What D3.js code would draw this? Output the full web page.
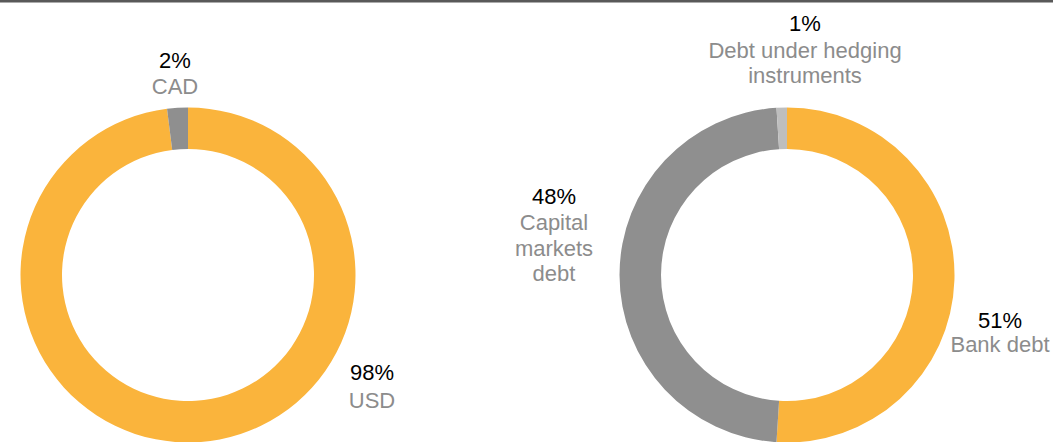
<!DOCTYPE html>
<html>
<head>
<meta charset="utf-8">
<script src="https://cdn.jsdelivr.net/npm/d3@7/dist/d3.min.js"></script>
<style>
  html, body { margin: 0; padding: 0; background: #ffffff; }
  svg { display: block; }
  text { font-family: "Liberation Sans", Arial, sans-serif; font-size: 22px; }
</style>
</head>
<body>
<svg id="chart" width="1053" height="442"></svg>
<script>
// Debt by currency
const currencyLabels = ["USD", "CAD"];
const currencyValues = [98, 2];

// Debt by type
const debtLabels = [
  ["Bank debt"],
  ["Capital", "markets", "debt"],
  ["Debt under hedging", "instruments"]
];
const debtValues = [51, 48, 1];

const palette = {
  orange: "#FAB43C",
  gray: "#8F8F8F",
  light: "#BEBEBE",
  pct: "#000000",
  cat: "#8C8C8C",
  rule: "#595959"
};

const svg = d3.select("#chart");
const W = 1053, H = 442;

// top rule
svg.append("rect").attr("x", 0).attr("y", 0).attr("width", W).attr("height", 2.5)
  .attr("fill", palette.rule);

const outerR = 167.5, innerR = 126;
const pie = d3.pie().sort(null).value(d => d);
const arc = d3.arc().innerRadius(innerR).outerRadius(outerR);

function donut(cx, cy, values, labels, colors, labelSpots) {
  const g = svg.append("g").attr("transform", `translate(${cx},${cy})`);
  const arcs = pie(values);
  g.selectAll("path").data(arcs).enter().append("path")
    .attr("d", arc)
    .attr("fill", (d, i) => colors[i]);

  // data labels: percentage on first line, category lines beneath
  arcs.forEach((a, i) => {
    const spot = labelSpots[i];
    const lines = Array.isArray(labels[i]) ? labels[i] : [labels[i]];
    const t = g.append("text")
      .attr("text-anchor", "middle")
      .attr("x", spot.dx)
      .attr("y", spot.dy);
    t.append("tspan").attr("x", spot.dx).attr("fill", palette.pct)
      .text(d3.format(".0f")(a.data) + "%");
    lines.forEach((ln, k) => {
      t.append("tspan").attr("x", spot.dx)
        .attr("dy", k === 0 ? spot.gap : spot.lead)
        .attr("fill", palette.cat)
        .text(ln);
    });
  });
}

// label anchors relative to each donut centre
donut(188, 275, currencyValues, currencyLabels,
  [palette.orange, palette.gray],
  [
    { dx: 184, dy: 105, gap: 28, lead: 26 },
    { dx: -13, dy: -207, gap: 26, lead: 26 }
  ]);

donut(787, 275, debtValues, debtLabels,
  [palette.orange, palette.gray, palette.light],
  [
    { dx: 213, dy: 53, gap: 24, lead: 24 },
    { dx: -233, dy: -71, gap: 26, lead: 25.5 },
    { dx: 18, dy: -244, gap: 27, lead: 25 }
  ]);
</script>
</body>
</html>
